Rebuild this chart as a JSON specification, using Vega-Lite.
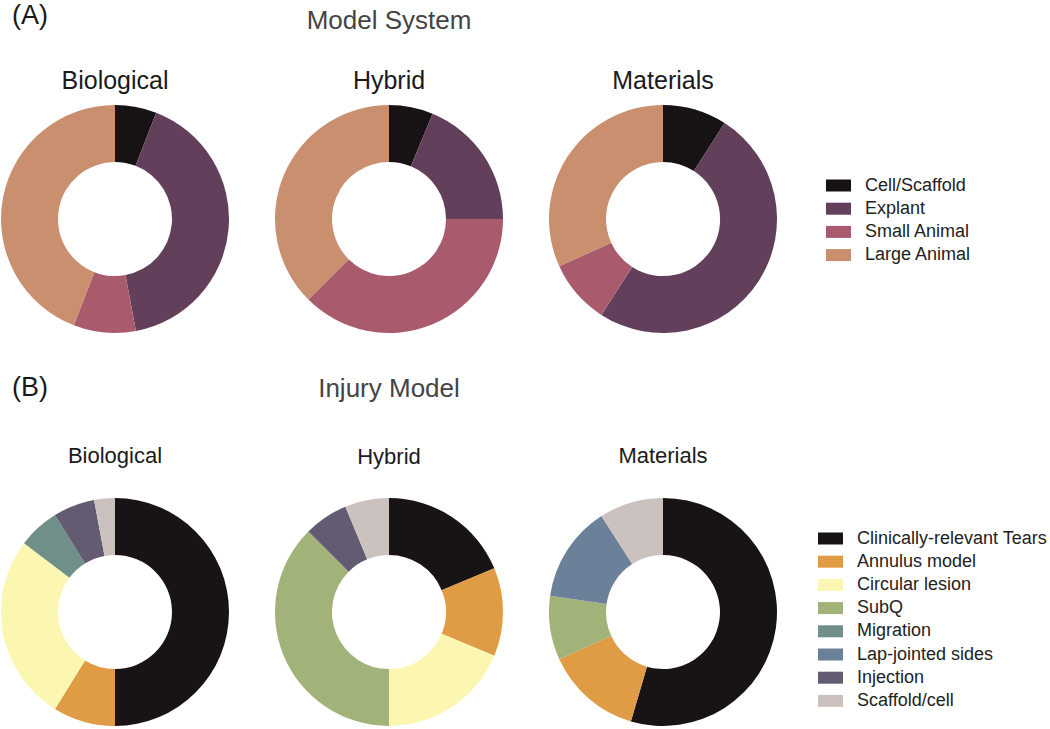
{
  "$schema": "https://vega.github.io/schema/vega-lite/v6.json",
  "padding": {"left": 0, "top": 2, "right": 0, "bottom": 0},
  "config": {
    "view": {"stroke": null},
    "font": "Liberation Sans",
    "title": {"font": "Liberation Sans", "fontWeight": "normal", "color": "#1a1a1a", "subtitleFont": "Liberation Sans", "subtitleColor": "#1a1a1a"},
    "legend": {
      "labelFont": "Liberation Sans",
      "labelFontSize": 18,
      "labelColor": "#222222",
      "labelLimit": 400,
      "symbolType": "M-1,-0.48H1V0.48H-1Z",
      "symbolSize": 625,
      "symbolStrokeWidth": 0,
      "rowPadding": 1.2,
      "labelOffset": 14,
      "title": null
    }
  },
  "datasets": {
    "a": [
      {"system": "Biological", "idx": 1, "cat": "Cell/Scaffold", "n": 2},
      {"system": "Biological", "idx": 2, "cat": "Explant", "n": 14},
      {"system": "Biological", "idx": 3, "cat": "Small Animal", "n": 3},
      {"system": "Biological", "idx": 4, "cat": "Large Animal", "n": 15},
      {"system": "Hybrid", "idx": 1, "cat": "Cell/Scaffold", "n": 1},
      {"system": "Hybrid", "idx": 2, "cat": "Explant", "n": 3},
      {"system": "Hybrid", "idx": 3, "cat": "Small Animal", "n": 6},
      {"system": "Hybrid", "idx": 4, "cat": "Large Animal", "n": 6},
      {"system": "Materials", "idx": 1, "cat": "Cell/Scaffold", "n": 2},
      {"system": "Materials", "idx": 2, "cat": "Explant", "n": 11},
      {"system": "Materials", "idx": 3, "cat": "Small Animal", "n": 2},
      {"system": "Materials", "idx": 4, "cat": "Large Animal", "n": 7}
    ],
    "b": [
      {"system": "Biological", "idx": 1, "cat": "Clinically-relevant Tears", "n": 17},
      {"system": "Biological", "idx": 2, "cat": "Annulus model", "n": 3},
      {"system": "Biological", "idx": 3, "cat": "Circular lesion", "n": 9},
      {"system": "Biological", "idx": 5, "cat": "Migration", "n": 2},
      {"system": "Biological", "idx": 7, "cat": "Injection", "n": 2},
      {"system": "Biological", "idx": 8, "cat": "Scaffold/cell", "n": 1},
      {"system": "Hybrid", "idx": 1, "cat": "Clinically-relevant Tears", "n": 3},
      {"system": "Hybrid", "idx": 2, "cat": "Annulus model", "n": 2},
      {"system": "Hybrid", "idx": 3, "cat": "Circular lesion", "n": 3},
      {"system": "Hybrid", "idx": 4, "cat": "SubQ", "n": 6},
      {"system": "Hybrid", "idx": 7, "cat": "Injection", "n": 1},
      {"system": "Hybrid", "idx": 8, "cat": "Scaffold/cell", "n": 1},
      {"system": "Materials", "idx": 1, "cat": "Clinically-relevant Tears", "n": 12},
      {"system": "Materials", "idx": 2, "cat": "Annulus model", "n": 3},
      {"system": "Materials", "idx": 4, "cat": "SubQ", "n": 2},
      {"system": "Materials", "idx": 6, "cat": "Lap-jointed sides", "n": 3},
      {"system": "Materials", "idx": 8, "cat": "Scaffold/cell", "n": 2}
    ]
  },
  "vconcat": [
    {
      "title": {"text": "(A)", "anchor": "start", "fontSize": 27, "offset": 0, "dx": 12, "dy": 22},
      "spacing": 44,
      "hconcat": [
        {
          "width": 230, "height": 230,
          "title": {"text": "Biological", "fontSize": 25, "offset": 10},
          "data": {"name": "a"},
          "transform": [{"filter": "datum.system === 'Biological'"}],
          "mark": {"type": "arc", "outerRadius": 114, "innerRadius": 57},
          "encoding": {
            "theta": {"field": "n", "type": "quantitative", "stack": true},
            "order": {"field": "idx", "type": "quantitative"},
            "color": {"field": "cat", "type": "nominal", "scale": {"domain": ["Cell/Scaffold", "Explant", "Small Animal", "Large Animal"], "range": ["#171314", "#623f5a", "#a95b6d", "#c98f6e"]}, "legend": {"orient": "none", "legendX": 826, "legendY": 69}}
          }
        },
        {
          "width": 230, "height": 230,
          "title": {"text": "Model System", "fontSize": 26, "color": "#444444", "subtitle": "Hybrid", "subtitleFontSize": 25, "subtitlePadding": 35, "offset": 10},
          "data": {"name": "a"},
          "transform": [{"filter": "datum.system === 'Hybrid'"}],
          "mark": {"type": "arc", "outerRadius": 114, "innerRadius": 57},
          "encoding": {
            "theta": {"field": "n", "type": "quantitative", "stack": true},
            "order": {"field": "idx", "type": "quantitative"},
            "color": {"field": "cat", "type": "nominal", "scale": {"domain": ["Cell/Scaffold", "Explant", "Small Animal", "Large Animal"], "range": ["#171314", "#623f5a", "#a95b6d", "#c98f6e"]}}
          }
        },
        {
          "width": 230, "height": 230,
          "title": {"text": "Materials", "fontSize": 25, "offset": 10},
          "data": {"name": "a"},
          "transform": [{"filter": "datum.system === 'Materials'"}],
          "mark": {"type": "arc", "outerRadius": 114, "innerRadius": 57},
          "encoding": {
            "theta": {"field": "n", "type": "quantitative", "stack": true},
            "order": {"field": "idx", "type": "quantitative"},
            "color": {"field": "cat", "type": "nominal", "scale": {"domain": ["Cell/Scaffold", "Explant", "Small Animal", "Large Animal"], "range": ["#171314", "#623f5a", "#a95b6d", "#c98f6e"]}}
          }
        }
      ]
    },
    {
      "title": {"text": "(B)", "anchor": "start", "fontSize": 27, "offset": 0, "dx": 12, "dy": 26},
      "spacing": 44,
      "hconcat": [
        {
          "width": 230, "height": 230,
          "title": {"text": "Biological", "fontSize": 22, "offset": 29},
          "data": {"name": "b"},
          "transform": [{"filter": "datum.system === 'Biological'"}],
          "mark": {"type": "arc", "outerRadius": 114, "innerRadius": 57},
          "encoding": {
            "theta": {"field": "n", "type": "quantitative", "stack": true},
            "order": {"field": "idx", "type": "quantitative"},
            "color": {"field": "cat", "type": "nominal", "scale": {"domain": ["Clinically-relevant Tears", "Annulus model", "Circular lesion", "SubQ", "Migration", "Lap-jointed sides", "Injection", "Scaffold/cell"], "range": ["#181415", "#e09b45", "#fbf7b0", "#a1b378", "#6f8f88", "#6a8199", "#635b72", "#cbc1bf"]}, "legend": {"orient": "none", "legendX": 818, "legendY": 29}}
          }
        },
        {
          "width": 230, "height": 230,
          "title": {"text": "Injury Model", "fontSize": 26, "color": "#444444", "subtitle": "Hybrid", "subtitleFontSize": 22, "subtitlePadding": 45, "offset": 29},
          "data": {"name": "b"},
          "transform": [{"filter": "datum.system === 'Hybrid'"}],
          "mark": {"type": "arc", "outerRadius": 114, "innerRadius": 57},
          "encoding": {
            "theta": {"field": "n", "type": "quantitative", "stack": true},
            "order": {"field": "idx", "type": "quantitative"},
            "color": {"field": "cat", "type": "nominal", "scale": {"domain": ["Clinically-relevant Tears", "Annulus model", "Circular lesion", "SubQ", "Migration", "Lap-jointed sides", "Injection", "Scaffold/cell"], "range": ["#181415", "#e09b45", "#fbf7b0", "#a1b378", "#6f8f88", "#6a8199", "#635b72", "#cbc1bf"]}}
          }
        },
        {
          "width": 230, "height": 230,
          "title": {"text": "Materials", "fontSize": 22, "offset": 29},
          "data": {"name": "b"},
          "transform": [{"filter": "datum.system === 'Materials'"}],
          "mark": {"type": "arc", "outerRadius": 114, "innerRadius": 57},
          "encoding": {
            "theta": {"field": "n", "type": "quantitative", "stack": true},
            "order": {"field": "idx", "type": "quantitative"},
            "color": {"field": "cat", "type": "nominal", "scale": {"domain": ["Clinically-relevant Tears", "Annulus model", "Circular lesion", "SubQ", "Migration", "Lap-jointed sides", "Injection", "Scaffold/cell"], "range": ["#181415", "#e09b45", "#fbf7b0", "#a1b378", "#6f8f88", "#6a8199", "#635b72", "#cbc1bf"]}}
          }
        }
      ]
    }
  ],
  "spacing": 40,
  "resolve": {"scale": {"color": "independent"}, "legend": {"color": "independent"}}
}
